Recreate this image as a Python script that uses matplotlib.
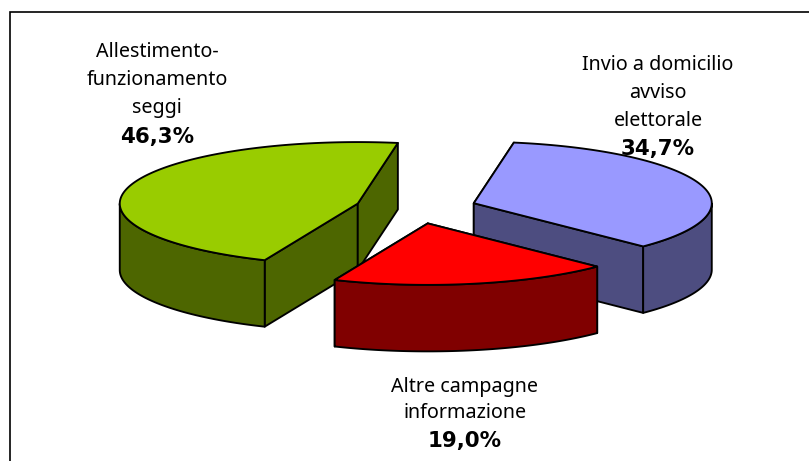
import numpy as np
import matplotlib
matplotlib.use("Agg")
import matplotlib.pyplot as plt
from matplotlib.patches import Polygon

labels = ["Invio a domicilio\navviso\nelettorale", "Altre campagne\ninformazione", "Allestimento-\nfunzionamento\nseggi"]
values = [34.7, 19.0, 46.3]
value_labels = ["34,7%", "19,0%", "46,3%"]
top_colors = ["#9999FF", "#FF0000", "#99CC00"]
wall_colors = ["#4D4D80", "#800000", "#4D6600"]

W, H = 809, 461
CX, CY = 416.0, 208.0
RX, RY = 238.0, 61.5
DEPTH = 66.5
EXPLODE = 0.255
START = 80.3
LW = 1.35

fig = plt.figure(figsize=(W / 100, H / 100), dpi=100)
ax = fig.add_axes([0, 0, 1, 1])
ax.set_xlim(0, W)
ax.set_ylim(H, 0)
ax.axis("off")


def pt(cx, cy, deg):
    t = np.radians(deg)
    return np.column_stack((cx + RX * np.cos(t), cy - RY * np.sin(t)))


def poly(xy, color, z):
    ax.add_patch(Polygon(xy, closed=True, facecolor=color, edgecolor="black",
                         linewidth=LW, joinstyle="round", zorder=z))


ax.plot([10, 10, W], [H, 12.5, 12.5], color="black", lw=1.2, zorder=1, solid_joinstyle="miter")

order = [2, 0, 1]
ends = {}
a = START
for i, v in enumerate(values):
    ends[i] = (a, a - v * 3.6)
    a -= v * 3.6

z = 2
for i in order:
    a0, a1 = ends[i]
    mid = np.radians((a0 + a1) / 2)
    cx = CX + EXPLODE * RX * np.cos(mid)
    cy = CY - EXPLODE * RY * np.sin(mid)
    apex = np.array([[cx, cy]])
    down = np.array([[0, DEPTH]])
    # cut faces
    for edge in (a0, a1):
        p = pt(cx, cy, np.array([edge]))
        poly(np.vstack((apex, p, p + down, apex + down)), wall_colors[i], z)
        z += 1
    # outer rim: the part of the arc facing the viewer
    arc = np.linspace(a1, a0, 240)
    s = ((arc + 180) % 360) - 180
    front = arc[(s <= 0) & (s >= -180)]
    if front.size:
        rim = pt(cx, cy, front)
        poly(np.vstack((rim, (rim + down)[::-1])), wall_colors[i], z)
        z += 1
    # top face
    poly(np.vstack((apex, pt(cx, cy, arc))), top_colors[i], z)
    z += 1

label_pos = [(658, [65, 93, 121], 149), (465, [387, 413], 441), (157, [52, 80, 108], 137)]
for lab, val, (x, ys, yv) in zip(labels, value_labels, label_pos):
    for line, y in zip(lab.split("\n"), ys):
        ax.text(x, y, line, ha="center", va="center", fontsize=14.2,
                family="Noto Sans", color="black", zorder=50)
    ax.text(x, yv, val, ha="center", va="center", fontsize=15.4,
            family="DejaVu Sans", fontweight="bold", color="black", zorder=50)

fig.savefig("out.png", dpi=100, facecolor="white")
